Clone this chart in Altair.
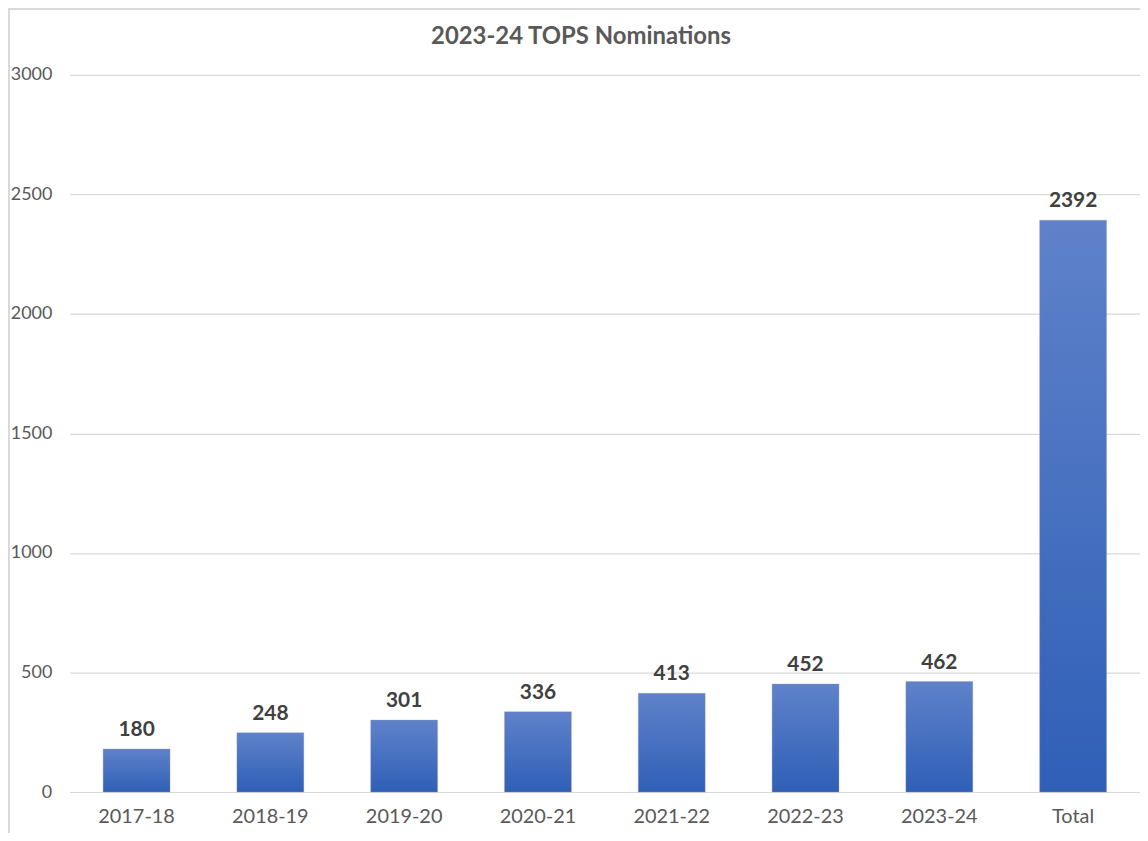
import altair as alt
import pandas as pd

years = ["2017-18", "2018-19", "2019-20", "2020-21", "2021-22", "2022-23", "2023-24", "Total"]
nominations = [180, 248, 301, 336, 413, 452, 462, 2392]
title_text = ["2023-24 TOPS Nominations"]

df = pd.DataFrame({"year": years, "n": nominations})
tdf = pd.DataFrame({"t": title_text})

W, H = 1076, 721
FONT = "Lato"

x = alt.X("year:N", sort=years, title=None,
          scale=alt.Scale(paddingInner=0.5, paddingOuter=0.25),
          axis=alt.Axis(labelAngle=0, labelFontSize=20, labelColor="#595959",
                        labelFont=FONT, labelPadding=15, ticks=False,
                        domainColor="#d9d9d9", domainWidth=1.2))
y = alt.Y("n:Q", title=None,
          scale=alt.Scale(domain=[0, 3000], nice=False),
          axis=alt.Axis(values=[0, 500, 1000, 1500, 2000, 2500, 3000], format="d",
                        labelFontSize=18, labelColor="#595959", labelFont=FONT,
                        labelPadding=18, ticks=False, domain=False,
                        gridColor="#d9d9d9", gridWidth=1.2))

grad = alt.Gradient(gradient="linear",
                    stops=[alt.GradientStop(color="#5f82ca", offset=0),
                           alt.GradientStop(color="#2f5fb7", offset=1)],
                    x1=0, x2=0, y1=0, y2=1)

bars = alt.Chart(df).mark_bar(color=grad, stroke="#9a9a9a", strokeWidth=1,
                              strokeOpacity=0.35).encode(x=x, y=y)

labels = alt.Chart(df).mark_text(baseline="bottom", dy=-9, fontSize=21,
                                 fontWeight="bold", font=FONT,
                                 color="#404040").encode(
    x=alt.X("year:N", sort=years), y="n:Q", text="n:Q")

frame = alt.Chart(df).mark_rect(fill=None, stroke="#d9d9d9", strokeWidth=1.5).encode(
    x=alt.value(-61), x2=alt.value(W + 5), y=alt.value(-66), y2=alt.value(H + 45))

title = alt.Chart(tdf).mark_text(fontSize=24, font=FONT, fontWeight="bold",
                                 color="#595959", baseline="middle").encode(
    x=alt.value(514), y=alt.value(-38), text="t:N")

chart = alt.layer(frame, bars, labels, title).properties(
    width=W, height=H,
    autosize=alt.AutoSizeParams(type="none"),
    padding={"left": 62, "top": 65, "right": 0, "bottom": 39},
).configure(background="white").configure_view(strokeWidth=0)

chart.save("out.html", embed_options={"renderer": "svg", "actions": False})
